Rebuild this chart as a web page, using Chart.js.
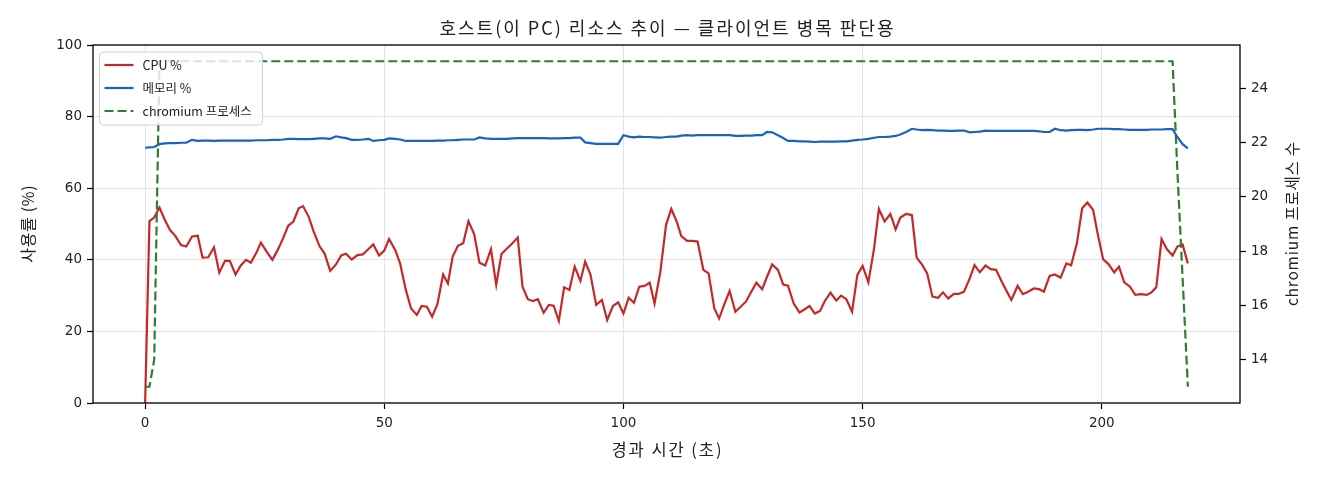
<!DOCTYPE html>
<html><head><meta charset="utf-8">
<script src="https://cdn.jsdelivr.net/npm/chart.js@4.4.1/dist/chart.umd.min.js"></script>
<style>html,body{margin:0;padding:0;background:#fff}</style>
</head><body>
<canvas id="c" width="1320" height="480"></canvas>
<script>
// elapsed seconds of each sample
const elapsed = [
  0, 0.9, 1.9, 3.0, 4.1, 5.2, 6.3, 7.5, 8.6, 9.8,
  11.0, 12.0, 13.2, 14.4, 15.5, 16.7, 17.7, 18.9, 20.0, 21.1,
  22.1, 23.2, 24.2, 25.4, 26.6, 27.7, 28.9, 29.9, 31.0, 32.1,
  33.0, 34.2, 35.2, 36.5, 37.5, 38.7, 39.9, 41.0, 42.0, 43.2,
  44.4, 45.5, 46.7, 47.7, 48.9, 50.0, 51.0, 52.3, 53.3, 54.5,
  55.6, 56.8, 57.8, 58.9, 60.0, 61.1, 62.3, 63.3, 64.3, 65.4,
  66.5, 67.6, 68.8, 69.9, 71.1, 72.3, 73.4, 74.5, 75.6, 76.8,
  77.9, 78.9, 80.0, 81.1, 82.1, 83.3, 84.4, 85.4, 86.5, 87.6,
  88.7, 89.8, 91.0, 92.0, 93.1, 94.3, 95.5, 96.6, 97.8, 98.9,
  100.0, 101.1, 102.2, 103.3, 104.4, 105.5, 106.5, 107.7, 108.9, 110.0,
  111.1, 112.1, 113.3, 114.4, 115.5, 116.7, 117.8, 119.0, 120.0, 121.1,
  122.2, 123.4, 124.5, 125.6, 126.7, 127.8, 129.0, 130.0, 131.1, 132.3,
  133.4, 134.4, 135.6, 136.8, 137.9, 138.9, 140.0, 141.1, 142.1, 143.3,
  144.5, 145.5, 146.6, 147.8, 148.9, 150.0, 151.2, 152.4, 153.4, 154.6,
  155.8, 156.9, 157.9, 159.1, 160.3, 161.3, 162.5, 163.5, 164.6, 165.8,
  166.8, 167.9, 169.1, 170.1, 171.2, 172.4, 173.4, 174.5, 175.7, 176.8,
  177.9, 179.1, 180.1, 181.1, 182.4, 183.5, 184.6, 185.8, 186.9, 187.9,
  189.1, 190.2, 191.4, 192.6, 193.6, 194.8, 195.9, 197.0, 198.2, 199.2,
  200.3, 201.4, 202.6, 203.6, 204.7, 205.9, 207.0, 208.2, 209.4, 210.4,
  211.4, 212.5, 213.6, 214.8, 215.8, 216.9, 218.0
];

const cpuPct = [
  0, 50.8, 51.8, 54.6, 51.2, 48.3, 46.7, 44.1, 43.7, 46.5,
  46.7, 40.6, 40.7, 43.5, 36.4, 39.7, 39.7, 35.9, 38.4, 40.0,
  39.2, 41.8, 44.8, 42.3, 40.0, 42.7, 46.2, 49.5, 50.7, 54.4,
  55.0, 52.0, 48.0, 43.7, 41.8, 36.9, 38.7, 41.2, 41.7, 40.1,
  41.3, 41.5, 43.0, 44.3, 41.2, 42.6, 45.8, 42.7, 39.0, 31.6,
  26.4, 24.6, 27.1, 26.9, 24.1, 27.6, 35.9, 33.4, 40.9, 43.9,
  44.6, 50.8, 47.1, 39.2, 38.4, 43.0, 33.0, 41.6, 43.1, 44.6,
  46.2, 32.5, 29.0, 28.5, 29.0, 25.2, 27.4, 27.2, 22.9, 32.3,
  31.6, 38.1, 34.1, 39.5, 35.9, 27.4, 28.8, 23.2, 27.1, 28.1,
  25.0, 29.4, 28.0, 32.5, 32.7, 33.6, 27.8, 36.5, 49.7, 54.2,
  50.8, 46.6, 45.3, 45.3, 45.1, 37.2, 36.2, 26.4, 23.6, 27.6,
  31.3, 25.5, 26.9, 28.3, 31.0, 33.6, 31.8, 35.2, 38.7, 37.2,
  33.1, 32.8, 27.8, 25.3, 26.2, 27.1, 25.0, 25.7, 28.5, 30.8,
  28.6, 30.0, 29.0, 25.5, 35.8, 38.3, 33.7, 43.2, 54.2, 50.7,
  52.8, 48.5, 51.8, 52.8, 52.5, 40.6, 38.5, 36.2, 29.7, 29.4,
  30.9, 29.2, 30.5, 30.5, 31.1, 34.8, 38.5, 36.5, 38.4, 37.4,
  37.2, 33.9, 31.3, 28.8, 32.7, 30.4, 31.1, 32.0, 31.8, 31.1,
  35.5, 35.9, 35.0, 39.0, 38.5, 44.6, 54.4, 56.0, 53.9, 46.9,
  40.1, 38.8, 36.5, 38.1, 33.7, 32.5, 30.2, 30.4, 30.2, 30.9,
  32.3, 45.8, 43.0, 41.2, 43.7, 44.3, 39.0
];

const memPct = [
  71.3, 71.4, 71.5, 72.3, 72.5, 72.6, 72.6, 72.7, 72.7, 73.5,
  73.2, 73.3, 73.3, 73.2, 73.3, 73.3, 73.3, 73.3, 73.3, 73.3,
  73.3, 73.4, 73.4, 73.4, 73.5, 73.5, 73.6, 73.8, 73.8, 73.7,
  73.7, 73.7, 73.8, 73.9, 73.9, 73.8, 74.5, 74.2, 74.0, 73.5,
  73.5, 73.6, 73.8, 73.2, 73.4, 73.5, 73.9, 73.8, 73.6, 73.2,
  73.2, 73.2, 73.2, 73.2, 73.2, 73.3, 73.3, 73.4, 73.4, 73.5,
  73.6, 73.6, 73.6, 74.2, 73.9, 73.8, 73.8, 73.8, 73.8, 73.9,
  74.0, 74.0, 74.0, 74.0, 74.0, 74.0, 73.9, 73.9, 73.9, 74.0,
  74.0, 74.1, 74.1, 72.8, 72.6, 72.4, 72.4, 72.4, 72.4, 72.4,
  74.8, 74.4, 74.2, 74.4, 74.3, 74.3, 74.2, 74.1, 74.3, 74.4,
  74.4, 74.7, 74.8, 74.7, 74.8, 74.8, 74.8, 74.8, 74.8, 74.8,
  74.8, 74.6, 74.6, 74.7, 74.7, 74.8, 74.8, 75.7, 75.6, 74.8,
  74.0, 73.2, 73.2, 73.1, 73.1, 73.0, 72.9, 73.0, 73.0, 73.0,
  73.0, 73.1, 73.1, 73.3, 73.5, 73.6, 73.8, 74.1, 74.3, 74.3,
  74.4, 74.6, 75.0, 75.7, 76.6, 76.4, 76.2, 76.3, 76.2, 76.1,
  76.1, 76.0, 76.0, 76.1, 76.1, 75.6, 75.7, 75.8, 76.1, 76.0,
  76.0, 76.0, 76.0, 76.0, 76.0, 76.0, 76.0, 76.0, 75.9, 75.7,
  75.7, 76.6, 76.2, 76.1, 76.2, 76.3, 76.3, 76.2, 76.4, 76.6,
  76.6, 76.6, 76.5, 76.5, 76.4, 76.3, 76.3, 76.3, 76.3, 76.4,
  76.4, 76.4, 76.5, 76.5, 74.3, 72.3, 71.1
];

const chromiumProcs = [
  13, 13, 14, 25, 25, 25, 25, 25, 25, 25, 25, 25, 25, 25, 25, 25, 25, 25, 25, 25,
  25, 25, 25, 25, 25, 25, 25, 25, 25, 25, 25, 25, 25, 25, 25, 25, 25, 25, 25, 25,
  25, 25, 25, 25, 25, 25, 25, 25, 25, 25, 25, 25, 25, 25, 25, 25, 25, 25, 25, 25,
  25, 25, 25, 25, 25, 25, 25, 25, 25, 25, 25, 25, 25, 25, 25, 25, 25, 25, 25, 25,
  25, 25, 25, 25, 25, 25, 25, 25, 25, 25, 25, 25, 25, 25, 25, 25, 25, 25, 25, 25,
  25, 25, 25, 25, 25, 25, 25, 25, 25, 25, 25, 25, 25, 25, 25, 25, 25, 25, 25, 25,
  25, 25, 25, 25, 25, 25, 25, 25, 25, 25, 25, 25, 25, 25, 25, 25, 25, 25, 25, 25,
  25, 25, 25, 25, 25, 25, 25, 25, 25, 25, 25, 25, 25, 25, 25, 25, 25, 25, 25, 25,
  25, 25, 25, 25, 25, 25, 25, 25, 25, 25, 25, 25, 25, 25, 25, 25, 25, 25, 25, 25,
  25, 25, 25, 25, 25, 25, 25, 25, 25, 25, 25, 25, 25, 25, 21, 17, 13
];

const xTicks = [0, 50, 100, 150, 200];
const yTicks = [0, 20, 40, 60, 80, 100];
const y1Ticks = [14, 16, 18, 20, 22, 24];

const TITLE = '호스트(이 PC) 리소스 추이 — 클라이언트 병목 판단용';
const X_TITLE = '경과 시간 (초)';
const Y_TITLE = '사용률 (%)';
const Y1_TITLE = 'chromium 프로세스 수';
const LABELS = ['CPU %', '메모리 %', 'chromium 프로세스'];

const FONT = '"Noto Sans CJK KR", "Noto Sans", sans-serif';
const NUM_FONT = '"DejaVu Sans", "Noto Sans", sans-serif';
Chart.defaults.font.family = FONT;
Chart.defaults.color = '#222';

const pts = arr => elapsed.map((t, i) => ({x: t, y: arr[i]}));

// draw text with a little letter spacing so that it spans about `width`, centred at (x, y)
function drawText(ctx, text, x, y, size, width, rot, align) {
  ctx.save();
  ctx.font = size + 'px ' + FONT;
  ctx.letterSpacing = '0px';
  const natural = ctx.measureText(text).width;
  const n = [...text].length;
  const ls = width ? Math.max(0, Math.min(2, (width - natural) / n)) : 0;
  ctx.letterSpacing = ls.toFixed(2) + 'px';
  ctx.translate(x, y);
  if (rot) ctx.rotate(rot);
  ctx.fillStyle = '#222';
  ctx.textAlign = align || 'center';
  ctx.textBaseline = 'middle';
  ctx.fillText(text, align === 'left' ? 0 : ls / 2, 0);
  ctx.restore();
}

const decor = {
  id: 'decor',
  afterDatasetsDraw(chart) {
    const {ctx, chartArea: a} = chart;
    const bx = a.left + 6.5, by = a.top + 7, bw = 163, bh = 73, r = 4;
    ctx.save();
    ctx.beginPath();
    ctx.moveTo(bx + r, by);
    ctx.arcTo(bx + bw, by, bx + bw, by + bh, r);
    ctx.arcTo(bx + bw, by + bh, bx, by + bh, r);
    ctx.arcTo(bx, by + bh, bx, by, r);
    ctx.arcTo(bx, by, bx + bw, by, r);
    ctx.closePath();
    ctx.fillStyle = 'rgba(255,255,255,0.8)';
    ctx.fill();
    ctx.strokeStyle = '#d0d0d0';
    ctx.lineWidth = 1;
    ctx.stroke();
    chart.data.datasets.forEach((ds, i) => {
      const yy = by + 13 + i * 23;
      ctx.beginPath();
      ctx.setLineDash(ds.borderDash || []);
      ctx.strokeStyle = ds.borderColor;
      ctx.lineWidth = ds.borderWidth;
      ctx.moveTo(bx + 5, yy);
      ctx.lineTo(bx + 34, yy);
      ctx.stroke();
      ctx.setLineDash([]);
      drawText(ctx, ds.label, bx + 43, yy, 12.5, 0, 0, 'left');
    });
    ctx.restore();
  },
  afterDraw(chart) {
    const {ctx, chartArea: a} = chart;
    const cx = (a.left + a.right) / 2, cy = (a.top + a.bottom) / 2;
    ctx.save();
    ctx.strokeStyle = '#000';
    ctx.lineWidth = 1.3;
    ctx.strokeRect(a.left, a.top, a.right - a.left, a.bottom - a.top);
    ctx.restore();
    drawText(ctx, TITLE, cx, 28, 18, 485, 0);
    drawText(ctx, X_TITLE, cx, 450, 16.5, 112, 0);
    drawText(ctx, Y_TITLE, 28, cy, 16, 78, -Math.PI / 2);
    drawText(ctx, Y1_TITLE, 1292, cy, 15.5, 165, -Math.PI / 2);
  }
};

const tickFont = {size: 13.5, family: NUM_FONT};
const gridCommon = {color: '#e4e4e4', lineWidth: 1, tickLength: 6, tickColor: '#000', tickWidth: 1.2};

new Chart(document.getElementById('c'), {
  type: 'line',
  data: {
    datasets: [
      {label: LABELS[0], data: pts(cpuPct), borderColor: '#c62828', borderWidth: 2.2, yAxisID: 'y', order: 1},
      {label: LABELS[1], data: pts(memPct), borderColor: '#1565c0', borderWidth: 2.2, yAxisID: 'y', order: 2},
      {label: LABELS[2], data: pts(chromiumProcs), borderColor: '#2e7d32', borderWidth: 2.2, borderDash: [9, 4], yAxisID: 'y1', order: 0}
    ]
  },
  options: {
    responsive: false,
    animation: false,
    devicePixelRatio: 1,
    layout: {padding: {top: 45, left: 0, right: 0, bottom: 0}},
    elements: {point: {radius: 0}, line: {tension: 0}},
    plugins: {
      legend: {display: false},
      tooltip: {enabled: false},
      title: {display: false}
    },
    scales: {
      x: {
        type: 'linear', min: -10.9, max: 228.9,
        afterBuildTicks: s => { s.ticks = xTicks.map(v => ({value: v})); },
        afterFit: s => { s.height = 77; },
        grid: gridCommon,
        border: {display: false},
        ticks: {font: tickFont, color: '#222', padding: 6, maxRotation: 0},
        title: {display: false}
      },
      y: {
        type: 'linear', position: 'left', min: 0, max: 100,
        afterBuildTicks: s => { s.ticks = yTicks.map(v => ({value: v})); },
        afterFit: s => { s.width = 93; },
        grid: gridCommon,
        border: {display: false},
        ticks: {font: tickFont, color: '#222', padding: 5},
        title: {display: false}
      },
      y1: {
        type: 'linear', position: 'right', min: 12.4, max: 25.6,
        afterBuildTicks: s => { s.ticks = y1Ticks.map(v => ({value: v})); },
        afterFit: s => { s.width = 80; },
        grid: Object.assign({}, gridCommon, {drawOnChartArea: false}),
        border: {display: false},
        ticks: {font: tickFont, color: '#222', padding: 5},
        title: {display: false}
      }
    }
  },
  plugins: [decor]
});
</script>
</body></html>
